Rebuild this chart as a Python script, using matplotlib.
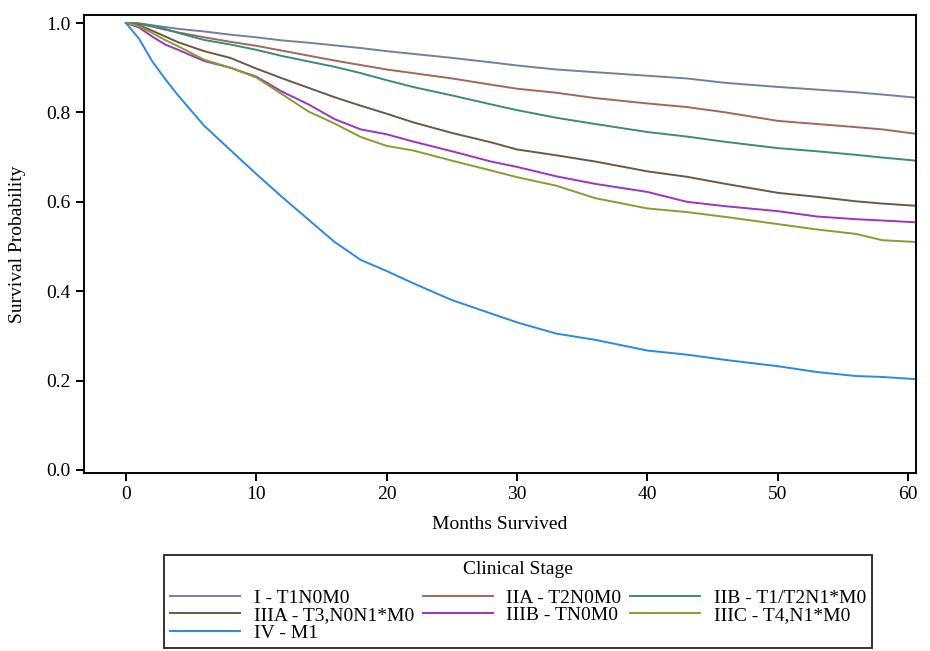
import matplotlib
matplotlib.use('Agg')
import matplotlib.pyplot as plt

plt.rcParams['font.family'] = ['Liberation Serif', 'DejaVu Serif']

months = [0, 1, 2, 3, 4, 6, 8, 10, 12, 14, 16, 18, 20, 22, 25, 28, 30, 33, 36,
          40, 43, 46, 50, 53, 56, 58, 60.6]

stage_I = [1.0, 0.999, 0.995, 0.991, 0.987, 0.981, 0.974, 0.968, 0.961, 0.956,
           0.950, 0.944, 0.937, 0.931, 0.922, 0.912, 0.905, 0.896, 0.890,
           0.882, 0.876, 0.866, 0.857, 0.851, 0.845, 0.840, 0.833]
stage_IIA = [1.0, 0.998, 0.992, 0.985, 0.979, 0.968, 0.958, 0.949, 0.938, 0.927,
             0.916, 0.906, 0.896, 0.888, 0.876, 0.862, 0.853, 0.844, 0.832,
             0.820, 0.812, 0.800, 0.781, 0.774, 0.767, 0.762, 0.752]
stage_IIB = [1.0, 0.999, 0.994, 0.987, 0.978, 0.962, 0.952, 0.940, 0.926, 0.914,
             0.902, 0.888, 0.872, 0.857, 0.838, 0.818, 0.805, 0.788, 0.774,
             0.756, 0.746, 0.734, 0.720, 0.713, 0.705, 0.699, 0.692]
stage_IIIA = [1.0, 0.995, 0.983, 0.970, 0.957, 0.937, 0.922, 0.898, 0.876, 0.855,
              0.834, 0.815, 0.797, 0.778, 0.754, 0.733, 0.717, 0.704, 0.690,
              0.668, 0.656, 0.640, 0.620, 0.611, 0.601, 0.596, 0.591]
stage_IIIB = [1.0, 0.990, 0.970, 0.952, 0.940, 0.915, 0.900, 0.880, 0.846, 0.818,
              0.785, 0.762, 0.751, 0.735, 0.713, 0.690, 0.678, 0.657, 0.640,
              0.622, 0.600, 0.590, 0.579, 0.567, 0.561, 0.558, 0.554]
stage_IIIC = [1.0, 0.993, 0.978, 0.962, 0.948, 0.918, 0.900, 0.878, 0.840, 0.802,
              0.775, 0.745, 0.725, 0.715, 0.692, 0.670, 0.655, 0.636, 0.608,
              0.585, 0.577, 0.566, 0.550, 0.538, 0.528, 0.514, 0.510]
stage_IV = [1.0, 0.965, 0.915, 0.875, 0.838, 0.770, 0.716, 0.662, 0.610, 0.560,
            0.510, 0.470, 0.445, 0.418, 0.380, 0.350, 0.330, 0.305, 0.291,
            0.267, 0.258, 0.246, 0.232, 0.219, 0.210, 0.208, 0.203]

labels = ['I - T1N0M0', 'IIA - T2N0M0', 'IIB - T1/T2N1*M0', 'IIIA - T3,N0N1*M0',
          'IIIB - TN0M0', 'IIIC - T4,N1*M0', 'IV - M1']
series = [stage_I, stage_IIA, stage_IIB, stage_IIIA, stage_IIIB, stage_IIIC, stage_IV]
colors = ['#7080a2', '#a3665c', '#3b8b79', '#6d5746', '#9b34c0', '#8c9a2e', '#2a89e3']

fig = plt.figure(figsize=(9.3, 6.51), dpi=100)
ax = fig.add_axes([0.0903, 0.2734, 0.8947, 0.7036])

lines = []
for vals, lab, col in zip(series, labels, colors):
    ln, = ax.plot(months, vals, color=col, lw=1.4, label=lab)
    lines.append(ln)

ax.set_xlim(-3.22, 60.6)
ax.set_ylim(-0.007, 1.018)
ax.set_xticks([0, 10, 20, 30, 40, 50, 60])
ax.set_yticks([0.0, 0.2, 0.4, 0.6, 0.8, 1.0])
ax.set_yticklabels(['0.0', '0.2', '0.4', '0.6', '0.8', '1.0'])
ax.tick_params(labelsize=14, length=6, width=1.4, direction='out')
for sp in ax.spines.values():
    sp.set_linewidth(1.4)

ax.set_xlabel('Months Survived', fontsize=14)
ax.set_ylabel('Survival Probability', fontsize=14)
ax.xaxis.set_label_coords(0.5, -0.094)
ax.yaxis.set_label_coords(-0.07, 0.5)

# row-wise order for 3 columns
order = [0, 3, 6, 1, 4, 2, 5]
leg = fig.legend([lines[i] for i in order], [labels[i] for i in order],
                 title='Clinical Stage', ncol=3, loc='upper center',
                 bbox_to_anchor=(0.557, 0.1475), fontsize=14, title_fontsize=14,
                 frameon=True, fancybox=False, edgecolor='black',
                 handlelength=3.6, handletextpad=0.7, columnspacing=0.45,
                 labelspacing=0.0, borderpad=0.3, borderaxespad=0)
leg.get_frame().set_linewidth(1.4)
leg._legend_box.sep = 8  # gap between title and entries

fig.savefig('out.png', dpi=100)
